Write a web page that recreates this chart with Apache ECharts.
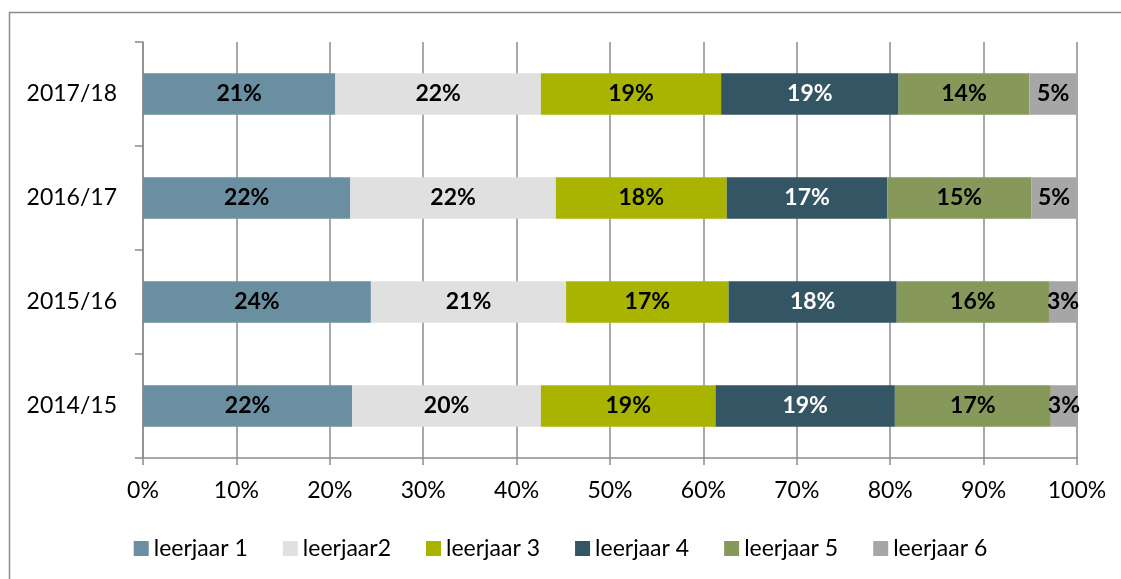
<!DOCTYPE html>
<html>
<head>
<meta charset="utf-8">
<script src="https://cdn.jsdelivr.net/npm/echarts@6/dist/echarts.min.js"></script>
<style>
  html, body { margin: 0; padding: 0; background: #fff; }
  #chart { width: 1121px; height: 579px; }
</style>
</head>
<body>
<div id="chart"></div>
<script>
// schooljaren, van onder naar boven
var years = ['2014/15', '2015/16', '2016/17', '2017/18'];
var seriesNames = ['leerjaar 1', 'leerjaar2', 'leerjaar 3', 'leerjaar 4', 'leerjaar 5', 'leerjaar 6'];
// aandeel per leerjaar (%)
var lj1 = [22.4, 24.4, 22.2, 20.6];
var lj2 = [20.2, 20.9, 22.0, 22.0];
var lj3 = [18.7, 17.4, 18.3, 19.3];
var lj4 = [19.2, 18.0, 17.2, 19.0];
var lj5 = [16.7, 16.3, 15.4, 14.0];
var lj6 = [2.8, 3.0, 4.9, 5.1];
var xTicks = [0, 10, 20, 30, 40, 50, 60, 70, 80, 90, 100];

var values = [lj1, lj2, lj3, lj4, lj5, lj6];
var colors = ['#6a8fa0', '#e0e0e0', '#a8b400', '#345563', '#87995a', '#a6a6a6'];
var labelColors = ['#000', '#000', '#000', '#fff', '#000', '#000'];
var font = 'Lato, "Open Sans", sans-serif';

var myChart = echarts.init(document.getElementById('chart'));
myChart.setOption({
  backgroundColor: '#ffffff',
  animation: false,
  graphic: [{
    type: 'rect',
    shape: {x: 9.5, y: 12.5, width: 1120, height: 600},
    style: {fill: 'none', stroke: '#8a8a8a', lineWidth: 1.5},
    silent: true
  }],
  grid: {left: 143, right: 44, top: 42, bottom: 121},
  legend: {
    bottom: 14,
    left: 'center',
    itemWidth: 15,
    itemHeight: 15,
    itemGap: 35,
    icon: 'rect',
    textStyle: {fontFamily: font, fontSize: 23, color: '#000'},
    data: seriesNames
  },
  xAxis: {
    type: 'value',
    min: 0,
    max: 100,
    interval: 10,
    axisLine: {show: true, lineStyle: {color: '#8c8c8c', width: 1.5}},
    axisTick: {show: true, length: 7, lineStyle: {color: '#8c8c8c', width: 1.5}},
    splitLine: {lineStyle: {color: '#8c8c8c', width: 1.5}},
    axisLabel: {
      fontFamily: font, fontSize: 23, color: '#000', margin: 21,
      formatter: function (v) { return xTicks.indexOf(v) >= 0 ? v + '%' : ''; }
    }
  },
  yAxis: {
    type: 'category',
    data: years,
    axisLine: {show: true, lineStyle: {color: '#8c8c8c', width: 1.5}},
    axisTick: {show: true, length: 8, lineStyle: {color: '#8c8c8c', width: 1.5}},
    axisLabel: {fontFamily: font, fontSize: 23, color: '#000', margin: 26}
  },
  series: seriesNames.map(function (name, i) {
    return {
      name: name,
      type: 'bar',
      stack: 'total',
      barWidth: '40%',
      itemStyle: {color: colors[i]},
      label: {
        show: true,
        position: 'inside',
        fontFamily: font,
        fontSize: 23,
        fontWeight: 'bold',
        color: labelColors[i],
        formatter: function (p) { return Math.round(p.value) + '%'; }
      },
      data: values[i]
    };
  })
});
</script>
</body>
</html>
